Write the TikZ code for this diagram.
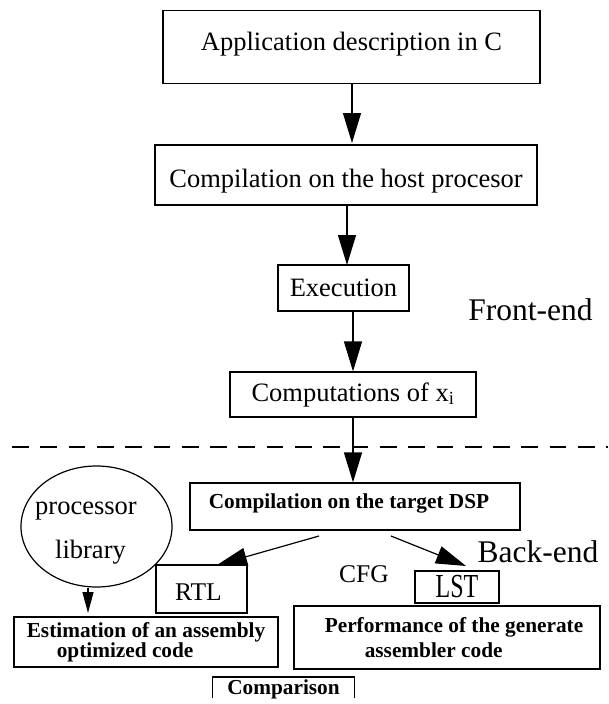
\documentclass[tikz,border=0pt]{standalone}
\usepackage{fontspec}
\usepackage{graphicx}
\setmainfont{Liberation Serif}
\usetikzlibrary{arrows.meta,shapes.geometric}
\tikzset{
  box/.style={draw, line width=1.2pt, rectangle, inner sep=0pt, align=center},
  arr/.style={line width=1.2pt, -{Triangle[length=30pt,width=18pt]}},
  sarr/.style={line width=1.2pt, -{Triangle[length=21pt,width=11pt]}},
  body/.style={font=\fontsize{26.5}{30}\selectfont},
  bfont/.style={font=\fontsize{21.3}{18}\selectfont\bfseries},
  big/.style={font=\fontsize{31.5}{34}\selectfont},
  mid/.style={font=\fontsize{25.5}{28}\selectfont},
}
\begin{document}
\begin{tikzpicture}[x=1pt,y=-1pt]
\useasboundingbox (0,0) rectangle (608,704);
\fill[white] (0,0) rectangle (608,704);

% Front-end
\node[box, body, minimum width=377pt, minimum height=73pt] (b1) at (351.5,47.3) {\raisebox{3pt}[\height][\depth]{Application description in C}};
\node[box, body, minimum width=382pt, minimum height=60pt] (b2) at (346,175) {\raisebox{-6pt}[\height][\depth]{Compilation on the host procesor}};
\node[box, body, minimum width=131pt, minimum height=46pt] (b3) at (343.5,288) {Execution};
\node[box, body, minimum width=246pt, minimum height=45pt] (b4) at (353,394.5) {Computations of x\textsubscript{i}};
\node[big, anchor=base] (fe) at (530.5,320) {Front-end};

\draw[arr] (b1.south -| 352,0) -- (352,143);
\draw[arr] (b2.south -| 347,0) -- (347,265);
\draw[arr] (b3.south -| 353,0) -- (b4.north -| 353,0);

% separator
\coordinate (dl) at (12,447);
\coordinate (dr) at (608,447);
\draw[line width=1.2pt, dash pattern=on 16.7pt off 11.6pt] (dl) -- (dr);

% Back-end
\node[box, bfont, minimum width=330pt, minimum height=47pt] (c) at (355,506.5) {\raisebox{3pt}[\height][\depth]{Compilation on the target DSP}\hspace*{12pt}};
\draw[arr] (b4.south -| 353,0) -- (c.north -| 353,0);

\node[draw, line width=1.2pt, ellipse, minimum width=151pt, minimum height=121pt, inner sep=0pt] (lib) at (96.5,526.5) {};
\node[body, anchor=base] (lib1) at (86,514) {processor};
\node[body, anchor=base] (lib2) at (90.5,558) {library};

\node[box, mid, minimum width=91pt, minimum height=48pt] (rtl) at (201.5,589) {\raisebox{-3pt}[\height][\depth]{RTL}\hspace*{6pt}};
\node[box, minimum width=84pt, minimum height=32pt] (lst) at (457,587) {\fontsize{24}{26}\selectfont\scalebox{1}[1.4]{LST}};
\node[mid, anchor=base] (cfg) at (364,582) {CFG};
\node[big, anchor=base] (be) at (538,562) {Back-end};

\coordinate (r0) at (319,536);
\coordinate (r1) at (217,565);
\coordinate (l0) at (391,536);
\coordinate (l1) at (466,566);
\draw[arr] (r0) -- (r1);
\draw[arr] (l0) -- (l1);

\coordinate (p0) at (88,588);
\coordinate (p1) at (88,613);
\draw[sarr] (p0) -- (p1);

\node[box, bfont, minimum width=264pt, minimum height=50pt, align=left] (est) at (146,642)
  {Estimation of an assembly\\\hspace*{30pt}optimized code};
\node[box, bfont, minimum width=306pt, minimum height=63pt, align=left] (perf) at (447,637.5)
  {\hspace*{14pt}Performance of the generate\\[5pt]\hspace*{54pt}assembler code};

\node[bfont, minimum width=141pt, minimum height=24pt, inner sep=0pt, anchor=north] (cmp) at (283.5,677) {Comparison};
\draw[line width=1.2pt] ([yshift=3pt]cmp.south west) -- (cmp.north west) -- (cmp.north east) -- ([yshift=3pt]cmp.south east);
\end{tikzpicture}
\end{document}
